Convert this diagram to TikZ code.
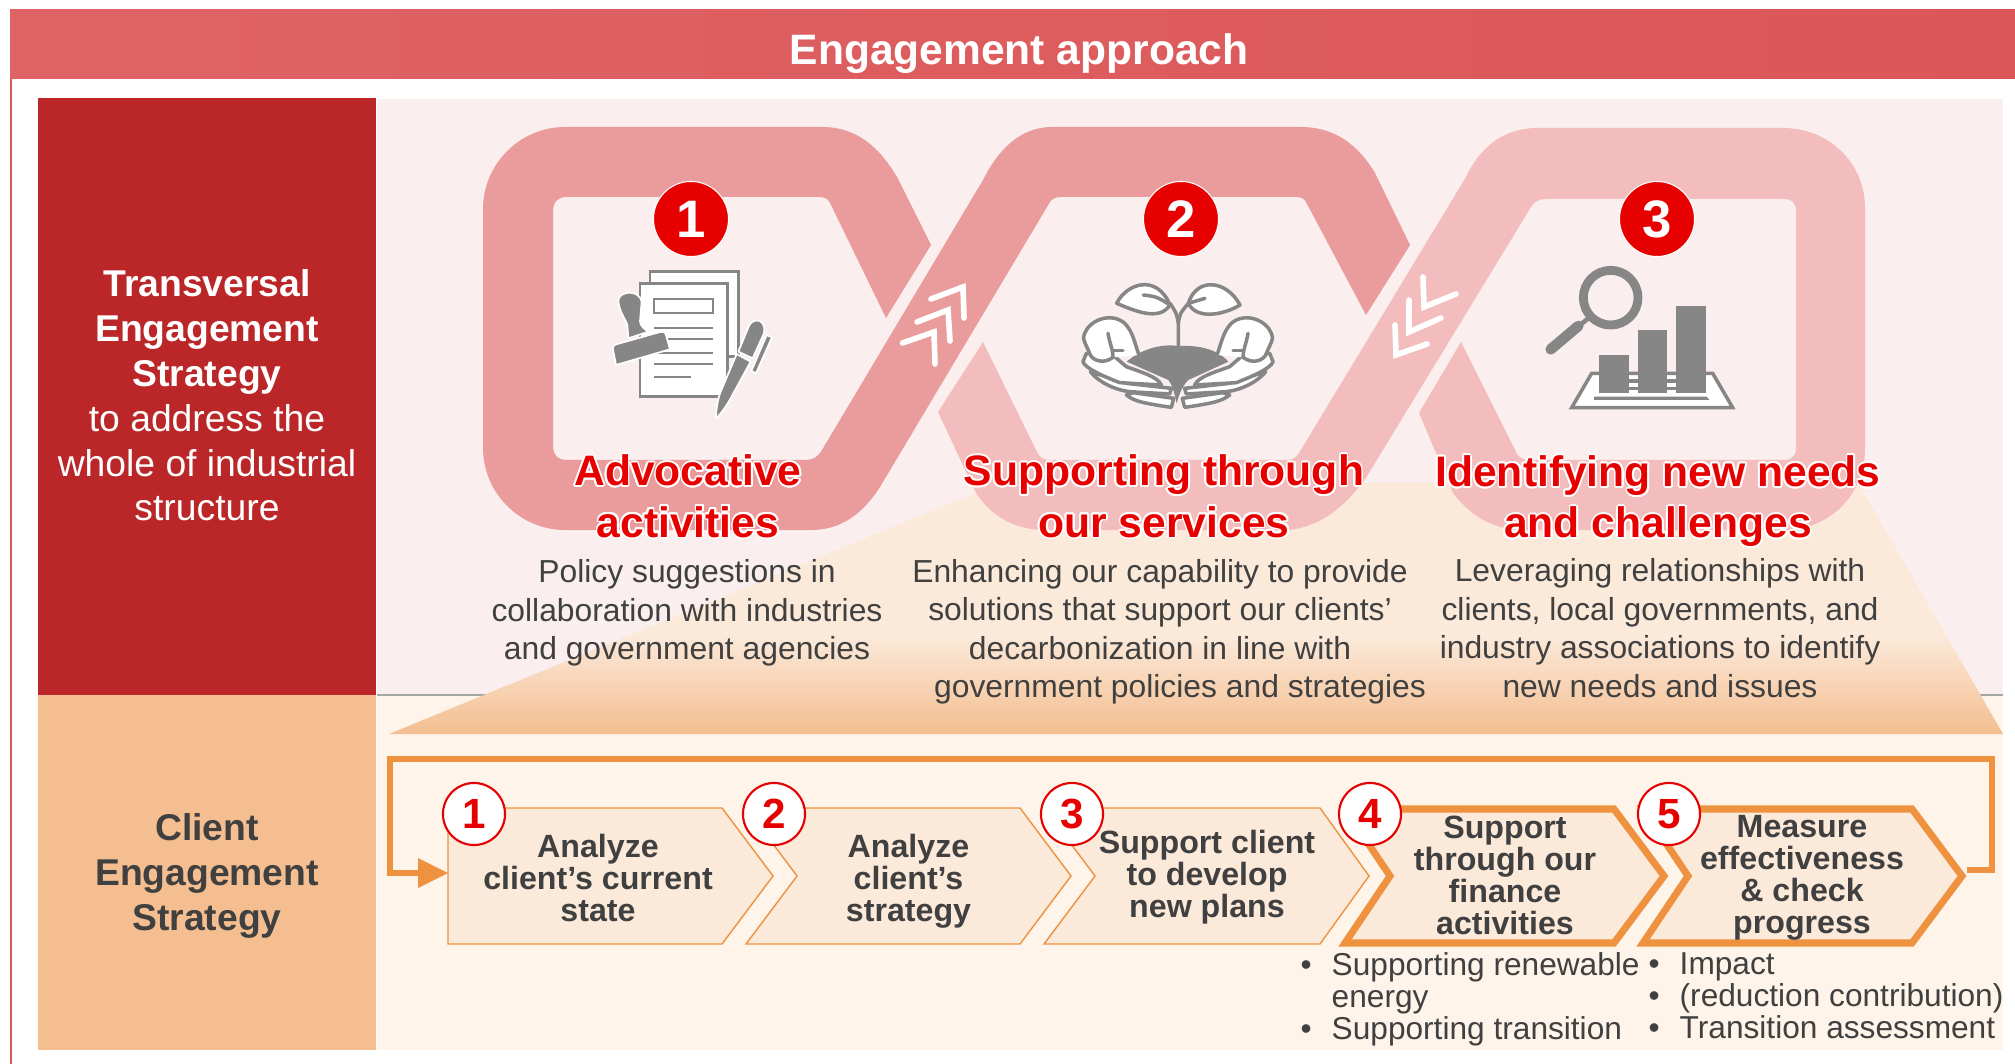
\documentclass[tikz,border=0pt]{standalone}
\usepackage{fontspec}
\setmainfont{Liberation Sans}
\usepackage{contour}
\contourlength{0.5pt}
\contournumber{16}
\usetikzlibrary{shadings}
\definecolor{headred}{HTML}{DB5658}
\definecolor{headlight}{HTML}{DF6365}
\definecolor{darkred}{HTML}{BB2728}
\definecolor{palepink}{HTML}{FAEEEE}
\definecolor{peach}{HTML}{F4BE90}
\definecolor{paleorange}{HTML}{FBE9DA}
\definecolor{cream}{HTML}{FEF4EA}
\definecolor{ribbondark}{HTML}{EA9B9C}
\definecolor{ribbonlight}{HTML}{F3BDBD}
\definecolor{strongred}{HTML}{E60000}
\definecolor{flow}{HTML}{EE9240}
\definecolor{bodygray}{HTML}{404040}
\definecolor{icongray}{HTML}{868686}
\pgfdeclareverticalshading{fanfade}{100bp}{color(0bp)=(peach); color(25bp)=(peach); color(44.5bp)=(paleorange); color(100bp)=(paleorange)}
\newcommand{\headtext}[1]{\contour{white}{#1}}
\newcommand{\bulletrow}[2]{\makebox[0.31cm][l]{#1}#2}
\tikzset{
  panel/.style={inner sep=0pt,align=center,font=\fontsize{10.6}{12.75}\selectfont},
  heading/.style={inner sep=0pt,align=center,text=strongred,font=\bfseries\fontsize{12.12}{14.6}\selectfont},
  bodytext/.style={inner sep=0pt,align=center,text=bodygray,font=\fontsize{9.05}{10.95}\selectfont},
  bigbadge/.style={circle,fill=strongred,draw=white,line width=0.3pt,minimum size=0.75cm,inner sep=0pt,text=white,font=\bfseries\fontsize{15}{15}\selectfont},
  smallbadge/.style={circle,fill=white,draw=strongred,line width=0.6pt,minimum size=0.62cm,inner sep=0pt,text=strongred,font=\bfseries\fontsize{12}{12}\selectfont},
  thinstep/.style={draw=flow,line width=0.4pt,fill=paleorange},
  thickstep/.style={draw=flow,line width=2pt,fill=paleorange,miter limit=10},
  steptext/.style={inner sep=0pt,align=center,text=bodygray,font=\bfseries\fontsize{9.15}{9.1}\selectfont},
  bullettext/.style={inner sep=0pt,anchor=north west,align=left,text=bodygray,font=\fontsize{9}{9.15}\selectfont},
  flowline/.style={draw=flow,line width=1.8pt},
  whitearrow/.style={draw=white,line width=1.6pt,line cap=round,line join=miter},
  iconline/.style={draw=icongray,line width=1pt,line join=round,line cap=round},
  iconfill/.style={fill=icongray,draw=white,line width=0.5pt,line join=round}
}
\begin{document}
\begin{tikzpicture}[x=0.01cm,y=-0.01cm]
  \useasboundingbox (0,0) rectangle (2015,1064);
  % panels
  \fill[left color=headlight,right color=headred] (10,10) rectangle (2015,79);
  \draw[headred,line width=0.4pt] (11,79) -- (11,1064);
  \fill[palepink] (377,99) rectangle (2003,695);
  \fill[cream] (377,695) rectangle (2003,1050);
  \fill[darkred] (38,98) rectangle (376,695);
  \fill[peach] (38,695) rectangle (376,1050);
  \node[panel,text=white] (transversal) at (207,395.5)
    {\textbf{Transversal}\\\textbf{Engagement}\\\textbf{Strategy}\\to address the\\whole of industrial\\structure};
  \node[panel,text=bodygray] (client) at (207,876)
    {\textbf{Client}\\\textbf{Engagement}\\\textbf{Strategy}};
  \node[inner sep=0pt,text=white,font=\bfseries\fontsize{12.1}{15}\selectfont] (title) at (1019,54) {Engagement approach};
  \draw[gray!70,line width=0.3pt] (377,695) -- (2003,695);
  \shade[shading=fanfade] (389,734) -- (1000,483) -- (1858,483) -- (2003,734) -- cycle;
  % ribbons
  \fill[ribbondark] (931,245) -- (897,177) .. controls (878,145) and (855,127) .. (822,127) -- (565,127)
    .. controls (520,127) and (483,164) .. (483,209) -- (483,448) .. controls (483,493) and (520,530) .. (565,530)
    -- (811,530) .. controls (840,530) and (862,515) .. (880,487) -- (1050,202) .. controls (1053,198) and (1056,197) .. (1062,197)
    -- (1296,197) .. controls (1302,197) and (1305,199) .. (1307,204) -- (1366,315) -- (1410,245) -- (1375,173)
    .. controls (1357,143) and (1333,127) .. (1301,127) -- (1052,127) .. controls (1020,127) and (998,150) .. (983,180)
    -- (822,450) .. controls (818,457) and (813,460) .. (806,460) -- (567,460) .. controls (558,460) and (553,455) .. (553,446)
    -- (553,211) .. controls (553,202) and (558,197) .. (567,197) -- (820,197) .. controls (826,197) and (829,200) .. (831,205)
    -- (886,318) -- cycle;
  \fill[ribbonlight] (983,342) -- (1036,450) .. controls (1039,457) and (1043,460) .. (1050,460) -- (1286,460)
    .. controls (1292,460) and (1296,458) .. (1299,453) -- (1466,177) .. controls (1480,147) and (1504,128) .. (1537,128)
    -- (1783,128) .. controls (1829,128) and (1865,163) .. (1865,208) -- (1865,449) .. controls (1865,495) and (1829,530) .. (1784,530)
    -- (1524,530) .. controls (1492,530) and (1470,515) .. (1453,493) -- (1419,413) -- (1461,342) -- (1515,450)
    .. controls (1518,457) and (1522,460) .. (1529,460) -- (1784,460) .. controls (1792,460) and (1796,456) .. (1796,448)
    -- (1796,211) .. controls (1796,203) and (1792,199) .. (1784,199) -- (1546,199) .. controls (1539,199) and (1535,201) .. (1531,207)
    -- (1375,463) .. controls (1357,495) and (1325,530) .. (1283,530) -- (1046,530) .. controls (1015,530) and (992,517) .. (976,493)
    -- (938,412) -- cycle;
  \draw[whitearrow] (931,299) -- (963,287) -- (964,318);
  \draw[whitearrow] (917,322) -- (948,310) -- (950,341);
  \draw[whitearrow] (902.5,343) -- (934,332) -- (935,364);
  \draw[whitearrow] (1423,277) -- (1424,307) -- (1456,294);
  \draw[whitearrow] (1409,300) -- (1409,332) -- (1441,318);
  \draw[whitearrow] (1395,325) -- (1396,355) -- (1427,344);
  % papers icon
  \begin{scope}[shift={(590,250)},scale=1/3]
    \draw[icongray,fill=white,line width=0.8pt] (180,65) rectangle (445,320);
    \draw[icongray,fill=white,line width=0.8pt] (150,100) rectangle (412,440);
    \draw[icongray,line width=0.6pt] (192,148) rectangle (370,188);
    \foreach \rowy in {235,268,308,342}
      \draw[icongray,line width=0.5pt] (192,\rowy) -- (370,\rowy);
    \draw[icongray,line width=0.5pt] (192,380) -- (303,380);
    \path[iconfill] (85,150) .. controls (90,120) and (150,120) .. (155,155) -- (150,215)
      .. controls (152,230) and (165,238) .. (175,245) -- (115,265) -- (112,225) .. controls (105,205) and (85,180) .. (85,150) -- cycle;
    \path[iconfill] (68,295) -- (78,345) -- (240,298) -- (228,255) .. controls (225,245) and (218,243) .. (210,246) -- (82,282) .. controls (72,285) and (68,288) .. (68,295) -- cycle;
    \path[iconfill] (445,305) -- (478,225) .. controls (495,200) and (530,210) .. (522,250) -- (488,325) -- cycle;
    \path[iconfill] (440,312) -- (482,335) -- (430,430) .. controls (415,460) and (395,490) .. (378,505) .. controls (378,480) and (382,455) .. (390,430) -- cycle;
    \path[iconfill] (530,255) -- (546,262) -- (498,370) -- (484,363) -- cycle;
  \end{scope}
  % plant icon
  \begin{scope}[shift={(1060,260)},scale=1/3]
    \draw[iconline,fill=white] (170,130) .. controls (200,70) and (290,40) .. (330,135) .. controls (300,180) and (240,160) .. (170,130) -- cycle;
    \draw[iconline,fill=white] (540,135) .. controls (500,60) and (410,50) .. (385,130) .. controls (410,180) and (490,165) .. (540,135) -- cycle;
    \draw[iconline] (250,105) .. controls (290,110) .. (330,135);
    \draw[iconline] (435,115) -- (385,130);
    \draw[iconline] (355,258) -- (355,190) .. controls (350,160) .. (330,130);
    \draw[iconline] (355,190) .. controls (360,160) .. (385,130);
    \fill[icongray] (200,305) .. controls (240,270) and (300,250) .. (355,258) .. controls (410,255) and (470,265) .. (505,305)
      -- (385,360) .. controls (365,380) and (355,410) .. (350,430) .. controls (345,410) and (340,380) .. (325,360) -- cycle;
  \end{scope}
  \foreach \handside in {1,-1} {
    \begin{scope}[shift={(1178,260)},xscale=\handside,scale=1/3]
      \draw[iconline,fill=white] (-155,405) .. controls (-135,420) and (-120,428) .. (-20,442) -- (-13,415) -- (-135,398) -- cycle;
      \draw[iconline,fill=white] (-263,335) .. controls (-240,365) and (-190,390) .. (-145,395) -- (-25,402) -- (-20,385) -- (-155,370) -- cycle;
      \draw[iconline,fill=white] (-285,305) .. controls (-280,325) and (-220,350) .. (-175,368) -- (-50,375) .. controls (-60,350) and (-115,335) .. (-155,320) -- (-190,290) -- (-275,280) -- cycle;
      \draw[iconline,fill=white] (-195,292) .. controls (-225,315) and (-260,300) .. (-265,280) .. controls (-275,255) and (-290,235) .. (-280,220)
        .. controls (-265,180) and (-200,155) .. (-160,190) .. controls (-135,215) and (-130,250) .. (-117,285);
      \draw[iconline] (-210,220) .. controls (-205,250) and (-195,270) .. (-195,292);
      \draw[iconline] (-192,272) -- (-165,272);
    \end{scope}
  }
  % chart icon
  \begin{scope}[shift={(1520,250)},scale=1/3]
    \draw[icongray,line width=2.5pt] (272,143) circle (82);
    \draw[icongray,line width=1.3pt] (205,205) -- (180,225);
    \draw[icongray,line width=3pt,line cap=round] (175,228) -- (92,298);
    \draw[icongray,fill=white,line width=1pt] (215,370) -- (578,370) -- (638,473) -- (155,473) -- cycle;
    \fill[icongray] (326,388) rectangle (469,398);
    \fill[icongray] (326,412) rectangle (469,420);
    \fill[icongray] (222,440) -- (560,440) -- (568,450) -- (222,450) -- cycle;
    \fill[icongray] (238,316) rectangle (326,430);
    \fill[icongray] (354,241) rectangle (441,430);
    \fill[icongray] (469,167) rectangle (557,430);
  \end{scope}
  % activities
  \node[bigbadge] (badgeone) at (691,219) {1};
  \node[bigbadge] (badgetwo) at (1181,219) {2};
  \node[bigbadge] (badgethree) at (1657,219) {3};
  \node[heading] (advocative) at (688,497) {\headtext{Advocative}\\\headtext{activities}};
  \node[heading] (supporting) at (1164,497) {\headtext{Supporting through}\\\headtext{our services}};
  \node[heading] (identifying) at (1658,502) {\headtext{Identifying new needs}\\\headtext{and challenges}};
  \node[bodytext] (policy) at (687,613) {Policy suggestions in\\collaboration with industries\\and government agencies};
  \node[bodytext] (enhancing) at (1170,632) {\hspace*{-0.2cm}Enhancing our capability to provide\\\hspace*{-0.2cm}solutions that support our clients’\\\hspace*{-0.2cm}decarbonization in line with\\\hspace*{0.2cm}government policies and strategies};
  \node[bodytext] (leveraging) at (1660,628) {Leveraging relationships with\\clients, local governments, and\\industry associations to identify\\new needs and issues};
  % steps
  \draw[thinstep] (448,808) -- (722,808) -- (773,876) -- (722,944) -- (448,944) -- cycle;
  \draw[thinstep] (746,808) -- (1020,808) -- (1071,876) -- (1020,944) -- (746,944) -- (797,876) -- cycle;
  \draw[thinstep] (1044,808) -- (1320,808) -- (1369,876) -- (1320,944) -- (1044,944) -- (1095,876) -- cycle;
  \draw[thickstep] (1345,809) -- (1614,809) -- (1664,876) -- (1614,943) -- (1345,943) -- (1390,876) -- cycle;
  \draw[thickstep] (1643,809) -- (1912,809) -- (1962,876) -- (1912,943) -- (1643,943) -- (1688,876) -- cycle;
  \coordinate (stepfivetip) at (1967,870);
  \coordinate (steponetail) at (448,873);
  \coordinate (cornerright) at (1992,759);
  \coordinate (cornerleft) at (390,759);
  \draw[flowline] (stepfivetip) -- (stepfivetip -| cornerright) -- (cornerright) -- (cornerleft) -- (cornerleft |- steponetail) -- (420,873);
  \fill[flow] (steponetail) -- (418,858) -- (418,888) -- cycle;
  \node[steptext] (stepone) at (598,878) {Analyze\\client’s current\\state};
  \node[steptext] (steptwo) at (908.5,881) {Analyze\\client’s\\strategy};
  \node[steptext] (stepthree) at (1207,877) {Support client\\to develop\\new plans};
  \node[steptext] (stepfour) at (1505,875) {Support\\through our\\finance\\activities};
  \node[steptext] (stepfive) at (1802,878) {Measure\\effectiveness\\\& check\\progress};
  \node[smallbadge] (markone) at (474,814) {1};
  \node[smallbadge] (marktwo) at (774,814) {2};
  \node[smallbadge] (markthree) at (1072,814) {3};
  \node[smallbadge] (markfour) at (1370,814) {4};
  \node[smallbadge] (markfive) at (1669,814) {5};
  \node[bullettext] (financelist) at (1300,952) {\bulletrow{•}{Supporting renewable}\\\bulletrow{}{energy}\\\bulletrow{•}{Supporting transition}};
  \node[bullettext] (impactlist) at (1648,952) {\bulletrow{•}{Impact}\\\bulletrow{•}{(reduction contribution)}\\\bulletrow{•}{Transition assessment}};
\end{tikzpicture}
\end{document}
